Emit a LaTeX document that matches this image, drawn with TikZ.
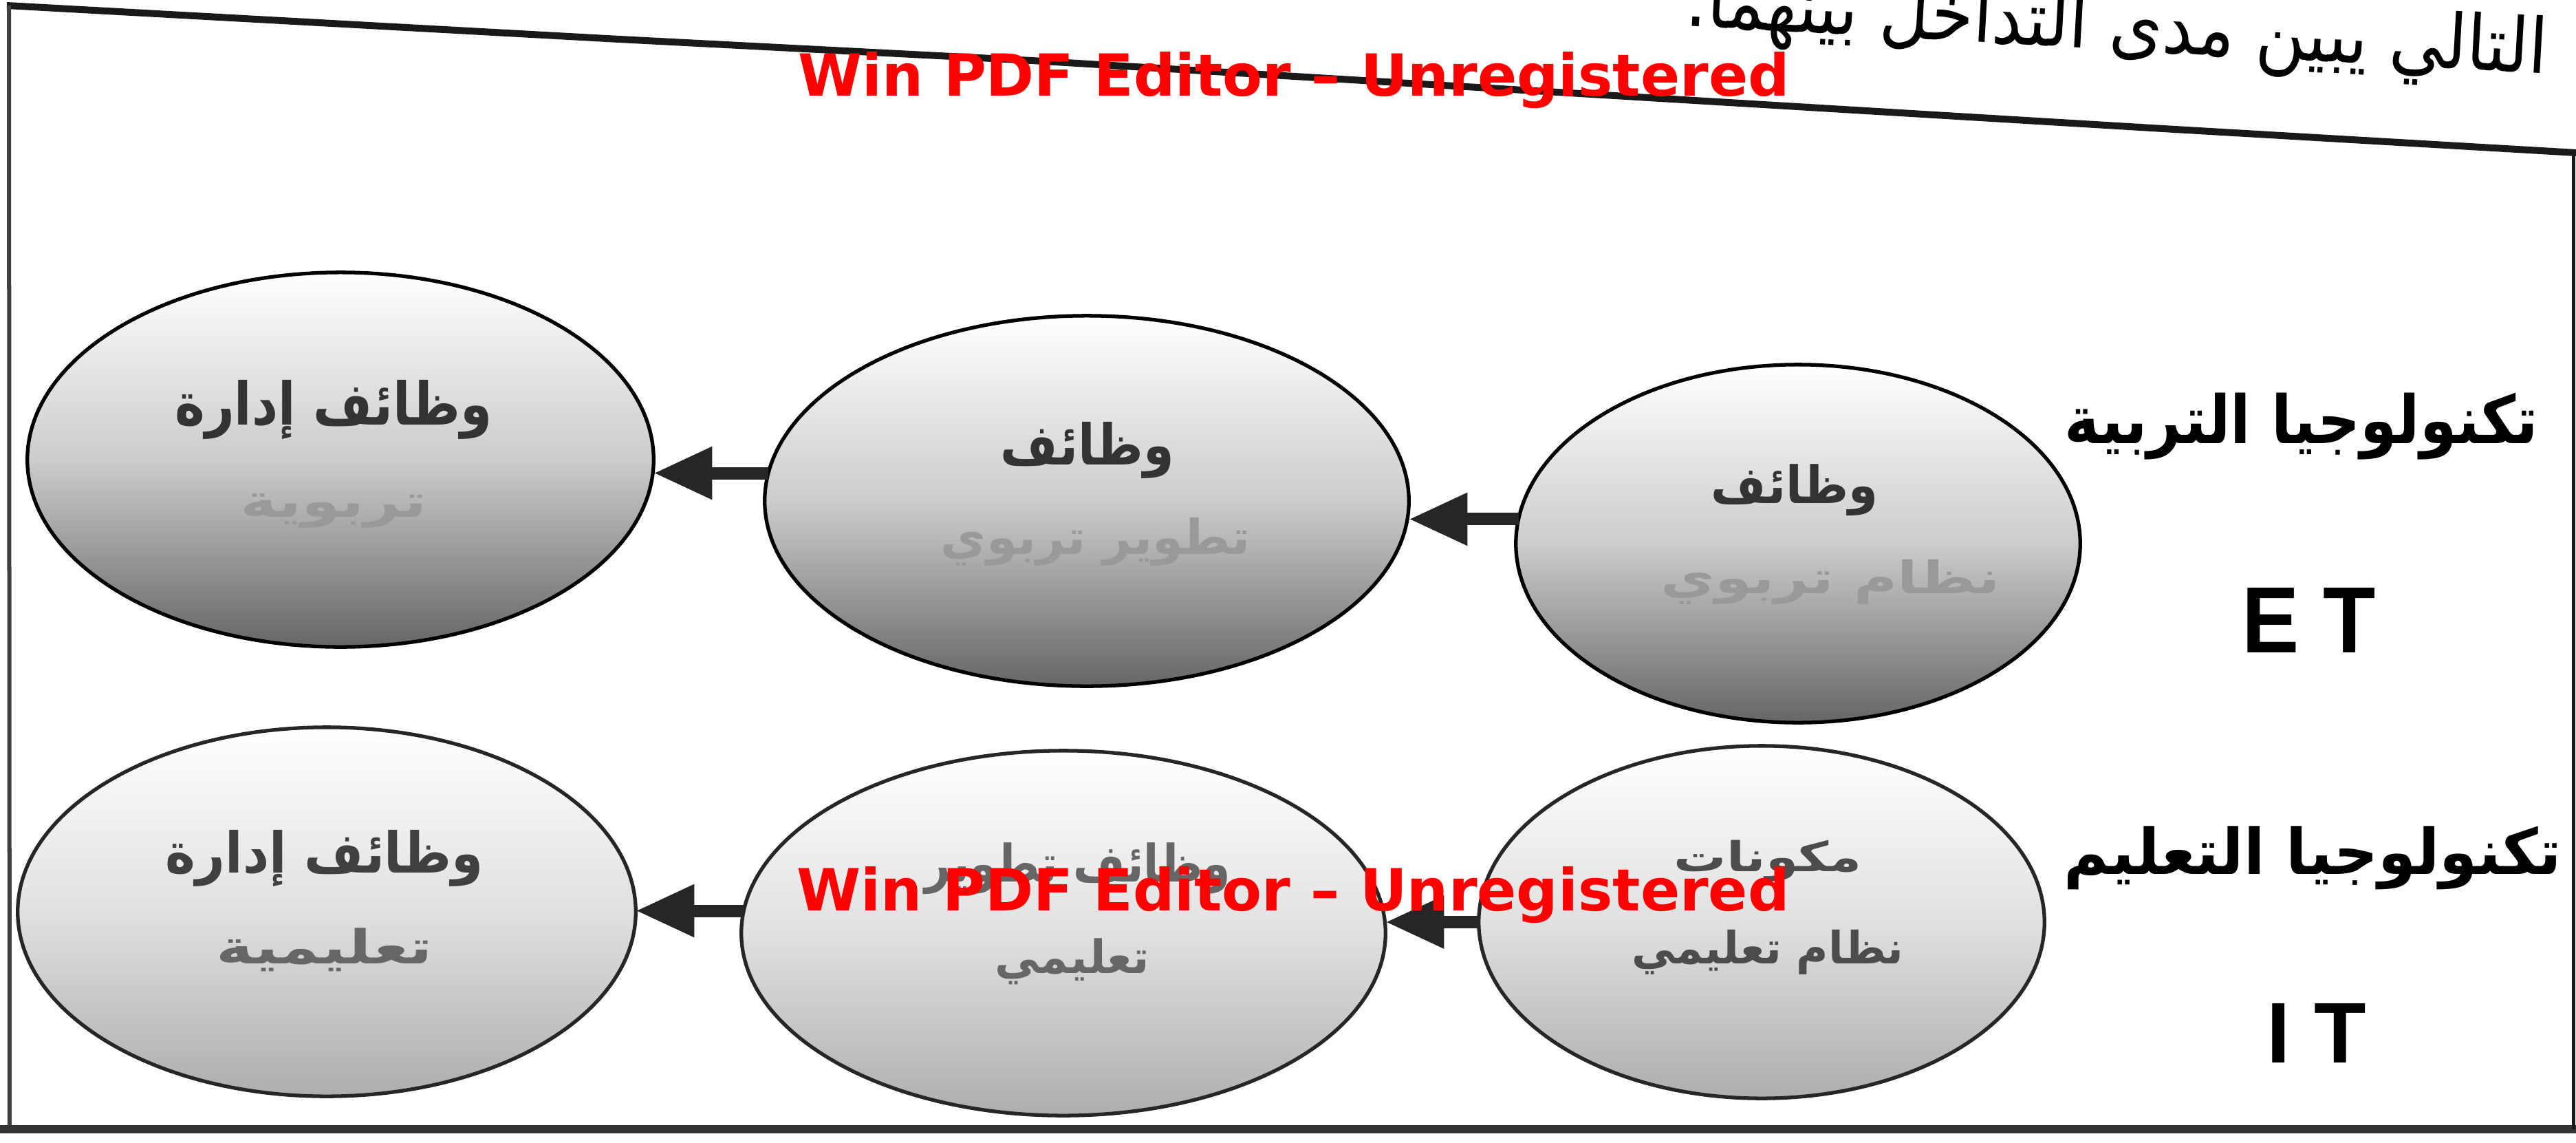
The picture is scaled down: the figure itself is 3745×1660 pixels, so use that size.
\documentclass[tikz,border=0pt]{standalone}
\usepackage{fontspec}
\usepackage{graphicx}
\usetikzlibrary{shapes.geometric,arrows.meta}
\TeXXeTstate=1
\newfontfamily\arabicfont[Script=Arabic]{DejaVu Sans}
\newfontfamily\wmfont{DejaVu Sans}
\newfontfamily\labfont{Liberation Sans}
\newcommand{\artxb}[3]{\resizebox*{#1}{#2}{\arabicfont\bfseries #3}}
\begin{document}
\begin{tikzpicture}[x=0.01cm,y=-0.01cm,
  ell/.style={ellipse, draw=black, line width=1.5pt, inner sep=0pt, outer sep=0pt},
  toprow/.style={ell, top color=white, bottom color=black!60, middle color=black!20},
  botrow/.style={ell, draw=black!85, top color=white, bottom color=black!32, middle color=black!12},
  txt/.style={inner sep=0pt, outer sep=0pt},
  arr/.style={line width=0.18cm, draw=black!85, -{Triangle[length=0.85cm,width=0.72cm]}},
  wm/.style={inner sep=0pt, text=red, anchor=base west},
  frameline/.style={draw=black!90, line join=round}
]
\useasboundingbox (0,0) rectangle (3745,1660);
\fill[white] (0,0) rectangle (3745,1660);

% frame
\draw[frameline, line width=0.1cm] (10,8) -- (900,57) -- (1500,88) -- (3145,187) -- (3745,222);
\draw[frameline, line width=0.06cm, draw=black!75] (13,8) -- (14,1645);
\draw[frameline, line width=0.12cm, draw=black!80] (0,1641) -- (3745,1641);
\draw[frameline, line width=0.05cm] (3741,220) -- (3741,1641);

% header sentence (cut at the top)
\node[txt, rotate=-3.2] (hdr) at (3077,44) {\resizebox*{12.54cm}{1.11cm}{\arabicfont\beginR التالي يبين مدى التداخل بينهما.\endR}};

% ellipses, top row
\node[toprow, minimum width=9.10cm, minimum height=5.44cm] (e1) at (495,668) {};
\node[toprow, minimum width=9.36cm, minimum height=5.38cm] (e2) at (1580,728) {};
\node[toprow, minimum width=8.20cm, minimum height=5.20cm] (e3) at (2614,790) {};
% ellipses, bottom row
\node[botrow, minimum width=8.98cm, minimum height=5.36cm] (e4) at (475,1325) {};
\node[botrow, minimum width=9.36cm, minimum height=5.30cm] (e5) at (1546,1356) {};
\node[botrow, minimum width=8.22cm, minimum height=5.12cm] (e6) at (2561,1340) {};

% texts in the ellipses
\node[txt, text=black!80] (t1) at (485,595) {\artxb{4.61cm}{0.86cm}{\beginR وظائف إدارة\endR}};
\node[txt, text=black!40] (t2) at (485,743) {\artxb{2.71cm}{0.50cm}{\beginR تربوية\endR}};
\node[txt, text=black!80] (t3) at (1581,654) {\artxb{2.52cm}{0.82cm}{\beginR وظائف\endR}};
\node[txt, text=black!40] (t4) at (1593,787) {\artxb{4.50cm}{0.70cm}{\beginR تطوير تربوي\endR}};
\node[txt, text=black!80] (t5) at (2609,712) {\artxb{2.42cm}{0.75cm}{\beginR وظائف\endR}};
\node[txt, text=black!40] (t6) at (2661,846) {\artxb{4.93cm}{0.65cm}{\beginR نظام تربوي\endR}};
\node[txt, text=black!75] (t7) at (472,1247) {\artxb{4.62cm}{0.82cm}{\beginR وظائف إدارة\endR}};
\node[txt, text=black!60] (t8) at (472,1380) {\artxb{3.14cm}{0.63cm}{\beginR تعليمية\endR}};
\node[txt, text=black!60] (t9) at (1567,1262) {\artxb{4.44cm}{0.75cm}{\beginR وظائف تطوير\endR}};
\node[txt, text=black!60] (t10) at (1559,1397) {\artxb{2.24cm}{0.67cm}{\beginR تعليمي\endR}};
\node[txt, text=black!70] (t11) at (2570,1251) {\artxb{2.72cm}{0.60cm}{\beginR مكونات\endR}};
\node[txt, text=black!70] (t12) at (2570,1384) {\artxb{3.95cm}{0.65cm}{\beginR نظام تعليمي\endR}};

% row labels
\node[txt] (l1) at (3346,620) {\artxb{6.88cm}{0.97cm}{\beginR تكنولوجيا التربية\endR}};
\node[txt] (l2) at (3362,1247) {\artxb{7.23cm}{0.92cm}{\beginR تكنولوجيا التعليم\endR}};
\node[txt] (et) at (3357,901) {\resizebox*{1.94cm}{0.94cm}{\labfont\bfseries E T}};
\node[txt] (it) at (3368,1501) {\resizebox*{1.44cm}{0.86cm}{\labfont\bfseries I T}};

% arrows
\draw[arr] (e2.175) -- (e2.175 -| e1.east);
\draw[arr] (e3.175) -- (e3.175 -| e2.east);
\draw[arr] (e5.176) -- (e5.176 -| e4.east);
\draw[arr] (e6.west) -- (e6.west -| e5.east);

% watermarks
\node[wm] (w1) at (1160,139) {\resizebox{14.40cm}{!}{\wmfont\bfseries Win PDF Editor – Unregistered}};
\node[wm] (w2) at (1158,1323) {\resizebox{14.42cm}{!}{\wmfont\bfseries Win PDF Editor – Unregistered}};
\end{tikzpicture}
\end{document}
